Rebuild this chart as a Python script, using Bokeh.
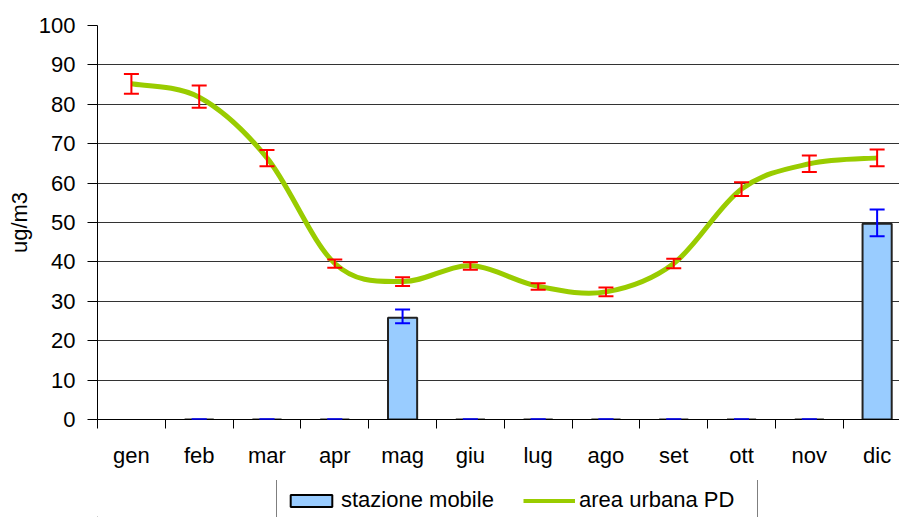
from bokeh.plotting import figure
from bokeh.layouts import column
from bokeh.models import (ColumnDataSource, Range1d, FixedTicker, Whisker, TeeHead,
                          Legend, LegendItem)
from bokeh.embed import file_html
from bokeh.resources import INLINE

# ---- data ----
months = ["gen", "feb", "mar", "apr", "mag", "giu", "lug", "ago", "set", "ott", "nov", "dic"]
urban = [85.2, 81.8, 66.4, 39.6, 35.0, 39.0, 33.8, 32.4, 39.6, 58.5, 64.9, 66.4]
urban_hi = [87.7, 84.8, 68.4, 40.6, 36.1, 39.9, 34.6, 33.5, 40.8, 60.2, 67.0, 68.5]
urban_lo = [82.7, 79.1, 64.3, 38.5, 33.9, 38.0, 32.9, 31.3, 38.4, 56.7, 62.8, 64.3]
nan = float("nan")
mobile = [nan, 0, 0, 0, 25.8, 0, 0, 0, 0, 0, 0, 49.7]
mobile_hi = [nan, 0, 0, 0, 27.9, 0, 0, 0, 0, 0, 0, 53.3]
mobile_lo = [nan, 0, 0, 0, 24.4, 0, 0, 0, 0, 0, 0, 46.5]
y_ticks = list(range(0, 101, 10))
series_names = ["stazione mobile", "area urbana PD"]

FONT = "Liberation Sans"
FS = "22px"
BAR_FILL = "#99CCFF"
LINE_COL = "#99CC00"

xs = list(range(len(months)))

p = figure(width=899, height=480, output_backend="svg", toolbar_location=None,
           x_range=Range1d(-0.5, 11.33), y_range=Range1d(0, 100),
           min_border_left=97, min_border_right=0, min_border_top=25, min_border_bottom=61)
p.outline_line_color = None

# bars
bar_src = ColumnDataSource(dict(x=xs, top=mobile, hi=mobile_hi, lo=mobile_lo))
p.vbar(x="x", top="top", bottom=0, width=0.43, source=bar_src,
       fill_color=BAR_FILL, line_color="#222222", line_width=2)

# smoothed line (Catmull-Rom -> cubic Bezier segments through the data points)
n = len(urban)
def P(i):
    i = max(0, min(n - 1, i))
    return xs[i], urban[i]
bz = dict(x0=[], y0=[], x1=[], y1=[], cx0=[], cy0=[], cx1=[], cy1=[])
for i in range(n - 1):
    xa, ya = P(i - 1); x0, y0 = P(i); x1, y1 = P(i + 1); xb, yb = P(i + 2)
    bz["x0"].append(x0); bz["y0"].append(y0); bz["x1"].append(x1); bz["y1"].append(y1)
    bz["cx0"].append(x0 + (x1 - xa) / 6); bz["cy0"].append(y0 + (y1 - ya) / 6)
    bz["cx1"].append(x1 - (xb - x0) / 6); bz["cy1"].append(y1 - (yb - y0) / 6)
p.bezier(x0="x0", y0="y0", x1="x1", y1="y1", cx0="cx0", cy0="cy0", cx1="cx1", cy1="cy1",
         source=ColumnDataSource(bz), line_color=LINE_COL, line_width=5)

# error bars
u_src = ColumnDataSource(dict(x=xs, hi=urban_hi, lo=urban_lo))
p.add_layout(Whisker(base="x", upper="hi", lower="lo", source=u_src, line_color="red", line_width=2,
                     level="overlay",
                     upper_head=TeeHead(size=15, line_color="red", line_width=2),
                     lower_head=TeeHead(size=15, line_color="red", line_width=2)))
p.add_layout(Whisker(base="x", upper="hi", lower="lo", source=bar_src, line_color="blue", line_width=2,
                     level="overlay",
                     upper_head=TeeHead(size=15, line_color="blue", line_width=2),
                     lower_head=TeeHead(size=15, line_color="blue", line_width=2)))

# axes
xa_ = p.xaxis[0]
xa_.ticker = FixedTicker(ticks=xs, minor_ticks=[i - 0.5 for i in range(13)])
xa_.major_label_overrides = {i: m for i, m in enumerate(months)}
xa_.major_tick_out = 0
xa_.major_tick_in = 0
xa_.minor_tick_out = 9
xa_.minor_tick_in = 0
xa_.minor_tick_line_color = "black"
xa_.major_label_standoff = 14
xa_.major_label_text_font = FONT
xa_.major_label_text_font_size = FS
xa_.major_label_text_color = "black"
xa_.axis_line_color = "black"

ya_ = p.yaxis[0]
ya_.ticker = FixedTicker(ticks=y_ticks)
ya_.major_tick_out = 10
ya_.major_tick_in = 0
ya_.major_tick_line_color = "black"
ya_.minor_tick_line_color = None
ya_.major_label_standoff = 12
ya_.major_label_text_font = FONT
ya_.major_label_text_font_size = FS
ya_.major_label_text_color = "black"
ya_.axis_line_color = "black"
ya_.axis_label = "ug/m3"
ya_.axis_label_text_font = FONT
ya_.axis_label_text_font_size = FS
ya_.axis_label_text_font_style = "normal"
ya_.axis_label_text_color = "black"
ya_.axis_label_standoff = 4

p.xgrid.grid_line_color = None
p.ygrid.ticker = FixedTicker(ticks=y_ticks)
p.ygrid.grid_line_color = "#333333"
p.ygrid.grid_line_width = 1

# legend strip (separate small figure so the legend is not clipped;
# the column aligns its frame with the main plot's frame, left edge at x=97)
lf = figure(width=899, height=37, output_backend="svg", toolbar_location=None,
            x_range=Range1d(0, 899), y_range=Range1d(0, 37),
            x_axis_location=None, y_axis_location=None,
            min_border=0, min_border_left=0, min_border_right=0,
            min_border_top=0, min_border_bottom=0)
lf.grid.visible = False
lf.outline_line_color = None
r_bar = lf.vbar(x=[-100], top=[-100], bottom=-200, width=1,
                fill_color=BAR_FILL, line_color="black", line_width=2)
r_line = lf.line(x=[-100, -90], y=[-100, -100], line_color=LINE_COL, line_width=4)

legend = Legend(items=[LegendItem(label=series_names[0], renderers=[r_bar]),
                       LegendItem(label=series_names[1], renderers=[r_line])],
                orientation="horizontal", location=(179, -5),
                label_text_font=FONT, label_text_font_size=FS, label_text_color="black",
                glyph_width=52, glyph_height=15, label_standoff=4, label_width=170,
                spacing=12, padding=8, margin=0,
                border_line_color="black", border_line_width=1,
                background_fill_color="white", background_fill_alpha=1.0)
lf.add_layout(legend, "center")

layout = column(p, lf, spacing=0)
open("out.html", "w").write(file_html(layout, INLINE))
